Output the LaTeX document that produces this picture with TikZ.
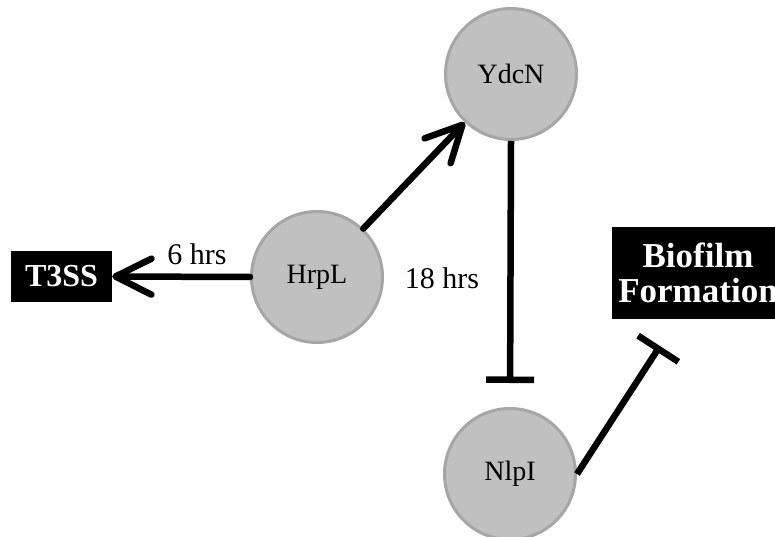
\documentclass[tikz,border=0pt]{standalone}
\usepackage{fontspec}
\setmainfont{Liberation Serif}
\usetikzlibrary{arrows.meta}
\definecolor{cfill}{HTML}{C0C0C0}
\definecolor{cborder}{HTML}{A6A6A6}
\begin{document}
\begin{tikzpicture}[x=1pt,y=-1pt,
  gene/.style={circle,fill=cfill,draw=cborder,line width=3pt,minimum size=131pt,inner sep=0pt,font=\fontsize{28}{30}\selectfont},
  blackbox/.style={fill=black,text=white,inner sep=0pt,align=center},
  conn/.style={line width=6.5pt,line cap=round},
  act/.style={-{Straight Barb[length=36pt,width=36pt,round]}},
  inh/.style={-{Bar[width=48pt]}, line cap=butt},
  lbl/.style={font=\fontsize{30}{32}\selectfont,inner sep=0pt}]
\clip (0,0) rectangle (775,537);
\useasboundingbox (0,0) rectangle (775,537);
\node[gene] (hrpl) at (317,277) {HrpL};
\node[gene] (ydcn) at (511,74) {YdcN};
\node[gene] (nlpi) at (510,474) {NlpI};
\node[blackbox,minimum width=101pt,minimum height=51pt,font=\bfseries\fontsize{32}{34}\selectfont] (t3ss) at (61.5,276.5) {T3SS};
\node[blackbox,minimum width=172pt,minimum height=92pt,font=\bfseries\fontsize{35}{35}\selectfont] (bf) at (698,273) {Biofilm\\Formation};
\coordinate (bfend) at (660,346);
\draw[conn,act] (hrpl.west) -- (t3ss.east);
\draw[conn,act] (hrpl) -- (ydcn);
\draw[conn,inh,shorten >=24pt] (ydcn.south) -- (nlpi.north);
\draw[conn,inh] (nlpi.east) -- (bfend);
\node[lbl] (l6) at (197,254) {6 hrs};
\node[lbl] (l18) at (442,278) {18 hrs};
\end{tikzpicture}
\end{document}
